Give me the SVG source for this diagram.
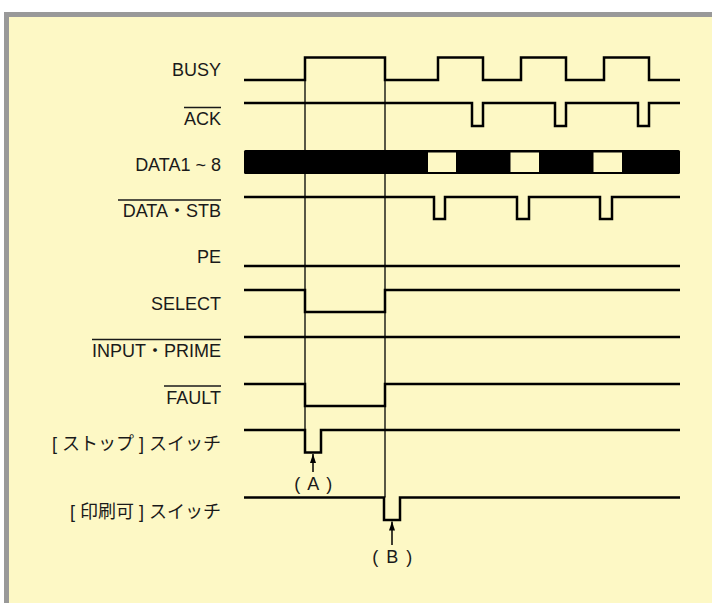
<svg xmlns="http://www.w3.org/2000/svg" width="712" height="603" viewBox="0 0 712 603">
<style>
.lbl{font-family:"Liberation Sans","Noto Sans CJK JP",Arial,sans-serif;font-size:18px;fill:#1a1a1a;text-anchor:end}
.mk{font-family:"Liberation Sans","Noto Sans CJK JP",Arial,sans-serif;font-size:18px;fill:#1a1a1a;text-anchor:middle;letter-spacing:1.5px}
.wave{fill:none;stroke:#000;stroke-width:2.5;stroke-linejoin:miter;stroke-linecap:butt}
.guide{fill:none;stroke:#000;stroke-width:1.3}
.ovl{stroke:#1a1a1a;stroke-width:1.3}
.arr{stroke:#000;stroke-width:1.5;fill:none}
</style>
<defs>
<marker id="ah" markerWidth="9" markerHeight="6" refX="9" refY="3" orient="auto" markerUnits="userSpaceOnUse" viewBox="0 0 9 6">
<path d="M0,0 L9,3 L0,6 Z" fill="#000"/>
</marker>
</defs>
<rect x="0" y="0" width="712" height="603" fill="#ffffff"/>
<rect x="4" y="12" width="708" height="591" fill="#999999"/>
<rect x="9" y="17" width="703" height="586" fill="#fdf8c5"/>

<g id="guides">
<line class="guide" x1="305" y1="57.5" x2="305" y2="430"/>
<line class="guide" x1="385" y1="57.5" x2="385" y2="497.5"/>
</g>

<g id="busy">
<text class="lbl" x="221" y="76">BUSY</text>
<path class="wave" d="M244,80 H305 V57.5 H385 V80 H438 V57.5 H483 V80 H521 V57.5 H566 V80 H604 V57.5 H649 V80 H680"/>
</g>
<g id="ack">
<text class="lbl" x="221" y="125">ACK</text>
<line class="ovl" x1="184" y1="107.5" x2="221" y2="107.5"/>
<path class="wave" d="M244,103 H472 V126 H483 V103 H555 V126 H566 V103 H638 V126 H649 V103 H680"/>
</g>
<g id="data">
<text class="lbl" x="221" y="171">DATA1 ~ 8</text>
<rect x="244" y="150" width="436" height="24" rx="1.5" fill="#000"/>
<rect x="428" y="152.5" width="28" height="19.5" fill="#fdf8c5"/>
<rect x="510.5" y="152.5" width="28.5" height="19.5" fill="#fdf8c5"/>
<rect x="593.5" y="152.5" width="28.5" height="19.5" fill="#fdf8c5"/>
</g>
<g id="datastb">
<text class="lbl" x="221" y="217">DATA・STB</text>
<line class="ovl" x1="118" y1="200" x2="221" y2="200"/>
<path class="wave" d="M244,197 H434 V219 H445 V197 H517 V219 H529 V197 H600 V219 H612 V197 H680"/>
</g>
<g id="pe">
<text class="lbl" x="221" y="263">PE</text>
<path class="wave" d="M244,266 H680"/>
</g>
<g id="select">
<text class="lbl" x="221" y="310">SELECT</text>
<path class="wave" d="M244,290 H305 V312 H385 V290 H680"/>
</g>
<g id="inputprime">
<text class="lbl" x="221" y="357">INPUT・PRIME</text>
<line class="ovl" x1="92" y1="339.5" x2="221" y2="339.5"/>
<path class="wave" d="M244,337 H680"/>
</g>
<g id="fault">
<text class="lbl" x="221" y="404">FAULT</text>
<line class="ovl" x1="164" y1="386" x2="221" y2="386"/>
<path class="wave" d="M244,384 H305 V406 H385 V384 H680"/>
</g>
<g id="stopswitch">
<text class="lbl" x="221" y="450">[ ストップ ] スイッチ</text>
<path class="wave" d="M244,430 H305 V452.5 H321 V430 H680"/>
</g>
<g id="printswitch">
<text class="lbl" x="221" y="518">[ 印刷可 ] スイッチ</text>
<path class="wave" d="M244,497.5 H384 V520 H400 V497.5 H680"/>
</g>

<g id="connectors">
<line class="arr" x1="313" y1="472" x2="313" y2="454" marker-end="url(#ah)"/>
<line class="arr" x1="392" y1="545" x2="392" y2="521.5" marker-end="url(#ah)"/>
</g>
<g id="markA"><text class="mk" x="314" y="490">( A )</text></g>
<g id="markB"><text class="mk" x="393" y="563">( B )</text></g>
</svg>
